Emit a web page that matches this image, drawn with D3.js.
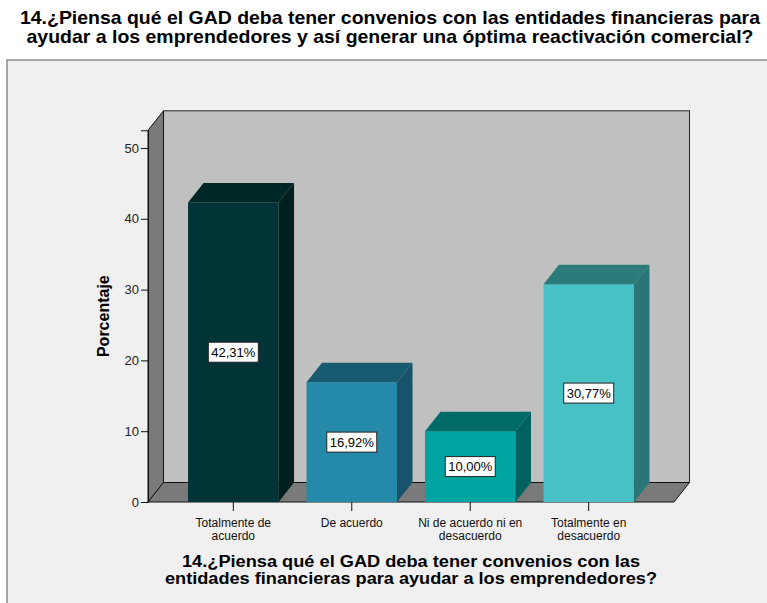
<!DOCTYPE html>
<html>
<head>
<meta charset="utf-8">
<script src="https://cdn.jsdelivr.net/npm/d3@7"></script>
<style>
  body { margin: 0; background: #fff; }
  svg { display: block; font-family: Arial, "Liberation Sans", sans-serif; }
</style>
</head>
<body>
<svg id="chart" width="767" height="603"></svg>
<script>
// datos
var categories = [
  ["Totalmente de", "acuerdo"],
  ["De acuerdo"],
  ["Ni de acuerdo ni en", "desacuerdo"],
  ["Totalmente en", "desacuerdo"]
];
var values = [42.31, 16.92, 10.00, 30.77];
var valueLabels = ["42,31%", "16,92%", "10,00%", "30,77%"];
var yTicks = [0, 10, 20, 30, 40, 50];
var titleLines = [
  "14.¿Piensa qué el GAD deba tener convenios con las entidades financieras para",
  "ayudar a los emprendedores y así generar una óptima reactivación comercial?"
];
var xTitleLines = [
  "14.¿Piensa qué el GAD deba tener convenios con las",
  "entidades financieras para ayudar a los emprendedores?"
];

// colores por barra: frente, arriba, lado
var barColors = [
  { front: "#003436", top: "#002727", side: "#001f1f" },
  { front: "#2589a9", top: "#185b70", side: "#17536a" },
  { front: "#00a5a1", top: "#006b67", side: "#00625e" },
  { front: "#48c2c6", top: "#2b7b7b", side: "#2a7575" }
];

var svg = d3.select("#chart");
var dx = 15.5, dy = 19.5;  // profundidad 3D

// panel gris
svg.append("rect").attr("x", 7).attr("y", 60).attr("width", 780).attr("height", 560)
  .attr("fill", "#f0f0f0").attr("stroke", "#8c8c8c").attr("stroke-width", 1.5);

// titulo
var title = svg.append("g").attr("font-weight", "bold").attr("font-size", 19).attr("fill", "#000");
var titleW = [740, 727];
titleLines.forEach(function (t, i) {
  title.append("text").attr("x", 390).attr("y", 24 + i * 19).attr("text-anchor", "middle")
    .attr("textLength", titleW[i]).attr("lengthAdjust", "spacingAndGlyphs").text(t);
});

// escalas
var x = d3.scaleBand().domain(d3.range(categories.length)).range([148, 674])
  .paddingInner(0.236).paddingOuter(0.338);
var y = d3.scaleLinear().domain([0, 52.5]).range([502, 130.3]);

var x0 = 148, x1 = 674, yb = y(0), yt = y(52.5);

// pared del fondo
svg.append("rect").attr("x", x0 + dx).attr("y", yt - dy).attr("width", x1 - x0).attr("height", yb - yt)
  .attr("fill", "#c0c0c0").attr("stroke", "#222").attr("stroke-width", 1);
// pared izquierda
svg.append("polygon")
  .attr("points", [[x0, yb], [x0, yt], [x0 + dx, yt - dy], [x0 + dx, yb - dy]].join(" "))
  .attr("fill", "#7a7a7a").attr("stroke", "#111").attr("stroke-width", 1);
// piso
svg.append("polygon")
  .attr("points", [[x0, yb], [x1, yb], [x1 + dx, yb - dy], [x0 + dx, yb - dy]].join(" "))
  .attr("fill", "#7a7a7a").attr("stroke", "#111").attr("stroke-width", 1);

// barras
var bw = x.bandwidth();
var bars = svg.append("g").selectAll("g").data(values).enter().append("g");
bars.append("rect")
  .attr("x", function (d, i) { return x(i); })
  .attr("y", function (d) { return y(d); })
  .attr("width", bw)
  .attr("height", function (d) { return yb - y(d); })
  .attr("fill", function (d, i) { return barColors[i].front; });
bars.append("polygon")
  .attr("points", function (d, i) {
    var l = x(i), t = y(d);
    return [[l, t], [l + dx, t - dy], [l + bw + dx, t - dy], [l + bw, t]].join(" ");
  })
  .attr("fill", function (d, i) { return barColors[i].top; });
bars.append("polygon")
  .attr("points", function (d, i) {
    var r = x(i) + bw, t = y(d);
    return [[r, t], [r + dx, t - dy], [r + dx, yb - dy], [r, yb]].join(" ");
  })
  .attr("fill", function (d, i) { return barColors[i].side; });

// etiquetas de valor
var lbl = svg.append("g").selectAll("g").data(values).enter().append("g")
  .attr("transform", function (d, i) {
    return "translate(" + (x(i) + bw / 2) + "," + ((y(d) + yb) / 2) + ")";
  });
lbl.append("rect").attr("x", -25).attr("y", -10).attr("width", 50).attr("height", 20)
  .attr("fill", "#fff").attr("stroke", "#222").attr("stroke-width", 1);
lbl.append("text").attr("text-anchor", "middle").attr("y", 4.5).attr("font-size", 13)
  .attr("fill", "#000").text(function (d, i) { return valueLabels[i]; });

// eje y
var yAxis = svg.append("g").attr("transform", "translate(" + x0 + ",0)")
  .call(d3.axisLeft(y).tickValues(yTicks).tickSize(7).tickPadding(2).tickFormat(d3.format("d")));
yAxis.select(".domain").attr("stroke", "#111");
yAxis.selectAll(".tick line").attr("stroke", "#111");
yAxis.selectAll("text").attr("font-size", 13).attr("fill", "#222").attr("font-family", "Arial, 'Liberation Sans', sans-serif");

svg.append("text").attr("transform", "translate(109," + ((yb + yt) / 2) + ") rotate(-90)")
  .attr("text-anchor", "middle").attr("font-weight", "bold").attr("font-size", 16)
  .attr("fill", "#000").text("Porcentaje");

// eje x: marcas y categorias
var xg = svg.append("g").selectAll("g").data(categories).enter().append("g")
  .attr("transform", function (d, i) { return "translate(" + (x(i) + bw / 2) + "," + yb + ")"; });
xg.append("line").attr("y1", 0).attr("y2", 9).attr("stroke", "#111");
xg.each(function (d) {
  var g = d3.select(this);
  d.forEach(function (t, j) {
    g.append("text").attr("text-anchor", "middle").attr("y", 25 + j * 13)
      .attr("font-size", 12).attr("fill", "#111").text(t);
  });
});

// titulo del eje x
var xtW = [458, 492];
xTitleLines.forEach(function (t, i) {
  svg.append("text").attr("x", (x0 + x1) / 2).attr("y", 567 + i * 17).attr("text-anchor", "middle")
    .attr("font-weight", "bold").attr("font-size", 16).attr("fill", "#000")
    .attr("textLength", xtW[i]).attr("lengthAdjust", "spacingAndGlyphs").text(t);
});
</script>
</body>
</html>
